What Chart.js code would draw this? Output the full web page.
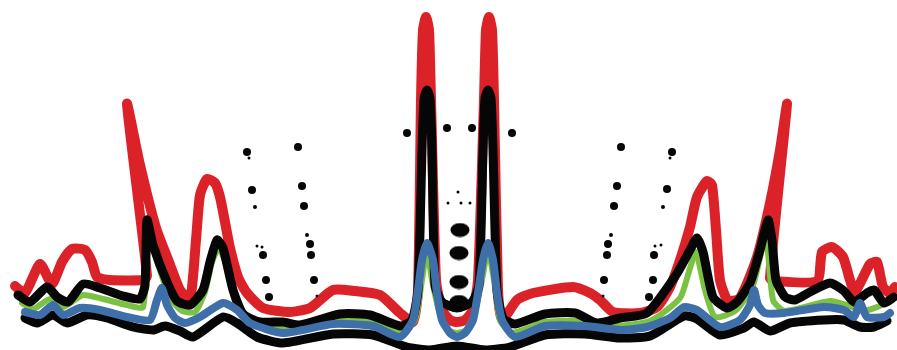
<!DOCTYPE html>
<html>
<head>
<meta charset="utf-8">
<script src="https://cdn.jsdelivr.net/npm/chart.js@4.4.1/dist/chart.umd.min.js"></script>
<style>
  html, body { margin: 0; padding: 0; background: #ffffff; overflow: hidden; }
  canvas { display: block; }
</style>
</head>
<body>
<canvas id="c" width="897" height="350"></canvas>
<script>
// Profile traces: horizontal position and intensity (vertical position, top = 0)
const redX = [15,25,40,52,62,72,85,92,97,110,143,147,127,140,156,169,180,190,196,200,207,215,220,225,230,238,247,263,290,310,333,355,380,400,413,418,421,423,426,429,431,436,442,450,457,465,473,478,484,486,489,492,494,498,502,517,533,573,590,600,613,640,657,670,680,690,697,707,712,716,720,728,740,757,770,780,787,770,775,817,822,832,843,850,855,870,877,883,890,895];
const redY = [286,293,264,284,262,249,250,262,277,280,280,276,104,165,228,262,290,300,240,195,179,183,197,222,248,277,293,308,312,308,290,291,295,313,322,290,100,30,17,30,100,280,310,320,322,320,310,280,100,30,17,30,100,290,320,300,293,287,293,300,312,313,307,287,260,227,197,181,185,230,280,301,298,257,203,150,104,278,281,281,252,247,257,280,292,264,262,287,293,287];

const blackX = [18,30,47,57,68,83,100,123,140,145,147,153,167,177,190,203,210,217,223,233,243,260,283,300,340,370,400,412,418,422,424,427,430,432,435,442,457,472,479,483,485,488,491,493,497,503,515,545,575,597,620,647,676,690,697,703,713,727,737,750,760,768,772,776,785,795,810,830,844,854,867,874,884,894];
const blackY = [295,302,287,297,302,284,288,296,299,285,220,245,282,301,305,290,262,240,248,290,314,322,322,325,314,315,326,320,290,150,98,90,98,150,285,302,308,302,285,150,98,90,98,150,290,318,324,314,313,323,318,313,275,250,238,252,297,308,302,283,250,220,240,280,297,300,292,283,291,302,293,290,303,297];

const greenX = [22,33,50,63,83,103,127,143,149,156,170,182,195,205,212,219,226,235,247,283,340,370,400,415,422,427,432,440,448,457,466,474,482,488,494,500,512,545,575,600,650,680,690,696,705,715,735,752,760,766,773,785,830,850,864,880];
const greenY = [303,309,299,307,295,299,305,307,235,258,298,311,312,292,262,248,265,300,319,329,321,322,333,320,280,250,280,315,330,333,330,315,280,250,280,320,333,322,321,327,321,298,268,252,290,317,311,288,258,234,300,311,301,306,311,306];

const blueX = [25,40,53,63,80,100,127,150,157,162,167,175,185,200,223,237,250,283,333,373,400,413,418,422,427,433,437,442,450,457,465,473,478,483,488,493,497,502,515,545,585,620,647,670,684,697,720,740,750,754,758,765,784,824,844,854,860,867,884,890];
const blueY = [312,315,305,315,308,310,317,320,300,288,305,318,323,317,303,310,323,333,324,326,337,320,290,260,243,260,293,320,333,337,333,320,293,260,243,260,293,320,337,326,326,330,327,318,307,310,327,320,305,290,305,313,313,307,310,317,303,317,317,313];

const baseX = [25,37,53,67,87,107,133,153,165,180,193,223,237,257,283,333,373,407,430,457,485,510,545,585,620,650,684,697,720,744,754,770,790,824,844,860,874,887];
const baseY = [318,323,315,323,315,318,327,330,326,331,337,317,323,337,343,334,335,347,350,346,350,347,335,334,338,336,316,319,335,328,322,331,323,320,320,327,327,321];

// Spot pattern: position and spot radius
const dotX = [247,249,298,252,302,255,304,307,257,262,263,310,311,266,314,269,317, 621,672,670,617,667,614,663,611,608,607,655,661,654,604,653,603,649, 407,447,472,512,458,448,461,470];
const dotY = [152,158,147,190,186,207,206,235,246,247,255,244,255,280,280,297,296, 147,152,158,186,189,206,207,235,244,255,246,245,255,280,280,296,297, 133,128,128,133,192,203,203,203];
const dotR = [4,1.5,4,4,4,2,4,2,1.5,1.5,4,4,4,4,4,4,1.5, 4,4,1.5,4,4,4,2,2,4,4,1.5,1.5,4,4,4,1.5,4, 4,4,4,4,1.5,1.5,1.5,1.5];

// Large oval spots in the central column
const blobX = [460,459,459,459];
const blobY = [230,253,282,302];

const pts = (xs, ys) => xs.map((x, i) => ({ x: x, y: ys[i] }));

// Oval marker drawn once and reused as a point style
const blob = document.createElement('canvas');
blob.width = 20; blob.height = 15;
const bctx = blob.getContext('2d');
bctx.fillStyle = '#050505';
bctx.beginPath();
bctx.ellipse(10, 7.5, 9.5, 7, 0, 0, Math.PI * 2);
bctx.fill();

const trace = (xs, ys, color, width, order) => ({
  data: pts(xs, ys),
  showLine: true,
  borderColor: color,
  borderWidth: width,
  borderJoinStyle: 'round',
  borderCapStyle: 'round',
  tension: 0.2,
  pointRadius: 0,
  pointHoverRadius: 0,
  clip: false,
  order: order
});

new Chart(document.getElementById('c'), {
  type: 'scatter',
  data: {
    datasets: [
      {
        data: pts(dotX, dotY),
        pointRadius: dotR,
        pointHoverRadius: dotR,
        pointBackgroundColor: '#050505',
        pointBorderWidth: 0,
        showLine: false,
        clip: false,
        order: 0
      },
      {
        data: pts(blobX, blobY),
        pointStyle: blob,
        pointRadius: 10,
        showLine: false,
        clip: false,
        order: 1
      },
      trace(blueX, blueY, '#3f6fa9', 8, 2),
      trace(baseX, baseY, '#060606', 9, 3),
      trace(blackX, blackY, '#060606', 9, 4),
      trace(greenX, greenY, '#7cc242', 6, 5),
      trace(redX, redY, '#dc2229', 10, 6)
    ]
  },
  options: {
    responsive: false,
    devicePixelRatio: 1,
    animation: false,
    events: [],
    layout: { padding: 0, autoPadding: false },
    plugins: { legend: { display: false }, tooltip: { enabled: false } },
    scales: {
      x: { type: 'linear', min: 0, max: 897, display: false },
      y: { type: 'linear', min: 0, max: 350, reverse: true, display: false }
    }
  }
});
</script>
</body>
</html>
